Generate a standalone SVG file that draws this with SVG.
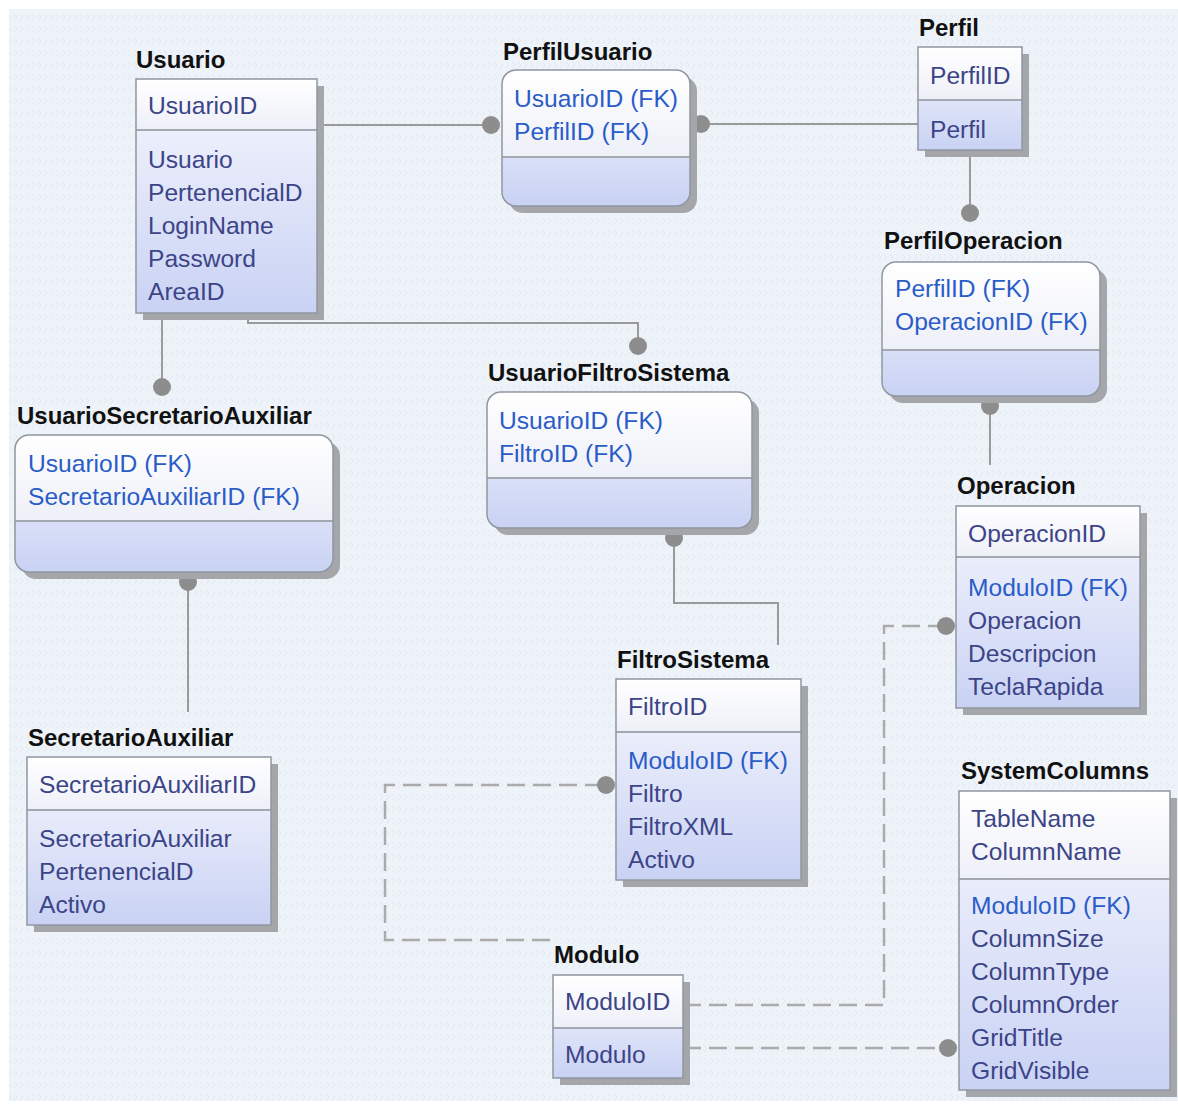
<svg xmlns="http://www.w3.org/2000/svg" width="1178" height="1107" viewBox="0 0 1178 1107">
<defs>
<linearGradient id="head" x1="0" y1="0" x2="0" y2="1"><stop offset="0" stop-color="#ffffff"/><stop offset="1" stop-color="#eef0f8"/></linearGradient>
<linearGradient id="body" x1="0" y1="0" x2="0" y2="1"><stop offset="0" stop-color="#f6f7fd"/><stop offset="1" stop-color="#c9d2f4"/></linearGradient>
<pattern id="tex" width="12" height="12" patternUnits="userSpaceOnUse"><path d="M2 2 L5 5 L2 8 M8 2 L11 5 L8 8" fill="none" stroke="#e1e8f0" stroke-width="1"/></pattern>
</defs>
<style>
.title{font-family:"Liberation Sans",Arial,sans-serif;font-weight:bold;font-size:24px;fill:#111111}
.at{font-family:"Liberation Sans",Arial,sans-serif;font-size:24.6px;fill:#3c4488}
.fk{font-family:"Liberation Sans",Arial,sans-serif;font-size:24.6px;fill:#2a5cc8}
.sh{fill:#a4a6aa}
.bd{fill:url(#body)}
.hd{fill:url(#head)}
.bx{fill:none;stroke:#9097a0;stroke-width:1.5}
.dv{stroke:#a4a8b0;stroke-width:2}
.ln{fill:none;stroke:#9a9a9a;stroke-width:2}
.ds{fill:none;stroke:#ababab;stroke-width:2.5;stroke-dasharray:18 8}
.dot{fill:#8d8d8d}
</style>
<rect width="1178" height="1107" fill="#ffffff"/>
<rect x="9" y="9" width="1169" height="1092" fill="#eef3f9"/>
<rect x="9" y="9" width="1169" height="1092" fill="url(#tex)"/>

<g id="connectors">
<path class="ln" d="M317 125 H491"/><circle class="dot" cx="491" cy="125" r="9"/>
<path class="ln" d="M701 124 H918"/><circle class="dot" cx="701" cy="124" r="9"/>
<path class="ln" d="M970 150 V213"/><circle class="dot" cx="970" cy="213" r="9"/>
<path class="ln" d="M990 406 V465"/><circle class="dot" cx="990" cy="406" r="9"/>
<path class="ln" d="M162 313 V387"/><circle class="dot" cx="162" cy="387" r="9"/>
<path class="ln" d="M188 582 V712"/><circle class="dot" cx="188" cy="582" r="9"/>
<path class="ln" d="M248 313 V323 H638 V346"/><circle class="dot" cx="638" cy="346" r="9"/>
<path class="ln" d="M674 538 V603 H778 V645"/><circle class="dot" cx="674" cy="538" r="9"/>
<path class="ds" d="M550 940 H385 V785 H606"/><circle class="dot" cx="606" cy="785" r="9"/>
<path class="ds" d="M683 1005 H884 V626 H946"/><circle class="dot" cx="946" cy="626" r="9"/>
<path class="ds" d="M683 1048 H948"/><circle class="dot" cx="948" cy="1048" r="9"/>
</g>

<g id="Usuario">
<text class="title" x="136" y="68">Usuario</text>
<rect class="sh" x="143" y="86" width="181" height="234"/>
<rect class="bd" x="136" y="79" width="181" height="234"/>
<rect class="hd" x="136" y="79" width="181" height="51"/>
<line class="dv" x1="136" y1="130" x2="317" y2="130"/>
<rect class="bx" x="136" y="79" width="181" height="234"/>
<text class="at" x="148" y="114">UsuarioID</text>
<text class="at" x="148" y="168">Usuario</text>
<text class="at" x="148" y="201">PertenencialD</text>
<text class="at" x="148" y="234">LoginName</text>
<text class="at" x="148" y="267">Password</text>
<text class="at" x="148" y="300">AreaID</text>
</g>

<g id="PerfilUsuario">
<text class="title" x="503" y="60">PerfilUsuario</text>
<rect class="sh" x="509" y="77" width="188" height="136" rx="14"/>
<rect class="bd" x="502" y="70" width="188" height="136" rx="14"/>
<path class="hd" d="M502 157 V84 A14 14 0 0 1 516 70 H676 A14 14 0 0 1 690 84 V157 Z"/>
<line class="dv" x1="502" y1="157" x2="690" y2="157"/>
<rect class="bx" x="502" y="70" width="188" height="136" rx="14"/>
<text class="fk" x="514" y="107">UsuarioID (FK)</text>
<text class="fk" x="514" y="140">PerfilID (FK)</text>
</g>

<g id="Perfil">
<text class="title" x="919" y="36">Perfil</text>
<rect class="sh" x="925" y="54" width="104" height="103"/>
<rect class="bd" x="918" y="47" width="104" height="103"/>
<rect class="hd" x="918" y="47" width="104" height="53"/>
<line class="dv" x1="918" y1="100" x2="1022" y2="100"/>
<rect class="bx" x="918" y="47" width="104" height="103"/>
<text class="at" x="930" y="84">PerfilID</text>
<text class="at" x="930" y="138">Perfil</text>
</g>

<g id="PerfilOperacion">
<text class="title" x="884" y="249">PerfilOperacion</text>
<rect class="sh" x="889" y="269" width="218" height="134" rx="14"/>
<rect class="bd" x="882" y="262" width="218" height="134" rx="14"/>
<path class="hd" d="M882 350 V276 A14 14 0 0 1 896 262 H1086 A14 14 0 0 1 1100 276 V350 Z"/>
<line class="dv" x1="882" y1="350" x2="1100" y2="350"/>
<rect class="bx" x="882" y="262" width="218" height="134" rx="14"/>
<text class="fk" x="895" y="297">PerfilID (FK)</text>
<text class="fk" x="895" y="330">OperacionID (FK)</text>
</g>

<g id="Operacion">
<text class="title" x="957" y="494">Operacion</text>
<rect class="sh" x="963" y="513" width="184" height="202"/>
<rect class="bd" x="956" y="506" width="184" height="202"/>
<rect class="hd" x="956" y="506" width="184" height="51"/>
<line class="dv" x1="956" y1="557" x2="1140" y2="557"/>
<rect class="bx" x="956" y="506" width="184" height="202"/>
<text class="at" x="968" y="542">OperacionID</text>
<text class="fk" x="968" y="596">ModuloID (FK)</text>
<text class="at" x="968" y="629">Operacion</text>
<text class="at" x="968" y="662">Descripcion</text>
<text class="at" x="968" y="695">TeclaRapida</text>
</g>

<g id="UsuarioSecretarioAuxiliar">
<text class="title" x="17" y="424">UsuarioSecretarioAuxiliar</text>
<rect class="sh" x="22" y="442" width="318" height="137" rx="14"/>
<rect class="bd" x="15" y="435" width="318" height="137" rx="14"/>
<path class="hd" d="M15 521 V449 A14 14 0 0 1 29 435 H319 A14 14 0 0 1 333 449 V521 Z"/>
<line class="dv" x1="15" y1="521" x2="333" y2="521"/>
<rect class="bx" x="15" y="435" width="318" height="137" rx="14"/>
<text class="fk" x="28" y="472">UsuarioID (FK)</text>
<text class="fk" x="28" y="505">SecretarioAuxiliarID (FK)</text>
</g>

<g id="SecretarioAuxiliar">
<text class="title" x="28" y="746">SecretarioAuxiliar</text>
<rect class="sh" x="34" y="764" width="244" height="168"/>
<rect class="bd" x="27" y="757" width="244" height="168"/>
<rect class="hd" x="27" y="757" width="244" height="53"/>
<line class="dv" x1="27" y1="810" x2="271" y2="810"/>
<rect class="bx" x="27" y="757" width="244" height="168"/>
<text class="at" x="39" y="793">SecretarioAuxiliarID</text>
<text class="at" x="39" y="847">SecretarioAuxiliar</text>
<text class="at" x="39" y="880">PertenencialD</text>
<text class="at" x="39" y="913">Activo</text>
</g>

<g id="UsuarioFiltroSistema">
<text class="title" x="488" y="381">UsuarioFiltroSistema</text>
<rect class="sh" x="494" y="399" width="265" height="136" rx="14"/>
<rect class="bd" x="487" y="392" width="265" height="136" rx="14"/>
<path class="hd" d="M487 478 V406 A14 14 0 0 1 501 392 H738 A14 14 0 0 1 752 406 V478 Z"/>
<line class="dv" x1="487" y1="478" x2="752" y2="478"/>
<rect class="bx" x="487" y="392" width="265" height="136" rx="14"/>
<text class="fk" x="499" y="429">UsuarioID (FK)</text>
<text class="fk" x="499" y="462">FiltroID (FK)</text>
</g>

<g id="FiltroSistema">
<text class="title" x="617" y="668">FiltroSistema</text>
<rect class="sh" x="623" y="686" width="185" height="201"/>
<rect class="bd" x="616" y="679" width="185" height="201"/>
<rect class="hd" x="616" y="679" width="185" height="53"/>
<line class="dv" x1="616" y1="732" x2="801" y2="732"/>
<rect class="bx" x="616" y="679" width="185" height="201"/>
<text class="at" x="628" y="715">FiltroID</text>
<text class="fk" x="628" y="769">ModuloID (FK)</text>
<text class="at" x="628" y="802">Filtro</text>
<text class="at" x="628" y="835">FiltroXML</text>
<text class="at" x="628" y="868">Activo</text>
</g>

<g id="Modulo">
<text class="title" x="554" y="963">Modulo</text>
<rect class="sh" x="560" y="982" width="130" height="103"/>
<rect class="bd" x="553" y="975" width="130" height="103"/>
<rect class="hd" x="553" y="975" width="130" height="53"/>
<line class="dv" x1="553" y1="1028" x2="683" y2="1028"/>
<rect class="bx" x="553" y="975" width="130" height="103"/>
<text class="at" x="565" y="1010">ModuloID</text>
<text class="at" x="565" y="1063">Modulo</text>
</g>

<g id="SystemColumns">
<text class="title" x="961" y="779">SystemColumns</text>
<rect class="sh" x="966" y="798" width="211" height="299"/>
<rect class="bd" x="959" y="791" width="211" height="299"/>
<rect class="hd" x="959" y="791" width="211" height="88"/>
<line class="dv" x1="959" y1="879" x2="1170" y2="879"/>
<rect class="bx" x="959" y="791" width="211" height="299"/>
<text class="at" x="971" y="827">TableName</text>
<text class="at" x="971" y="860">ColumnName</text>
<text class="fk" x="971" y="914">ModuloID (FK)</text>
<text class="at" x="971" y="947">ColumnSize</text>
<text class="at" x="971" y="980">ColumnType</text>
<text class="at" x="971" y="1013">ColumnOrder</text>
<text class="at" x="971" y="1046">GridTitle</text>
<text class="at" x="971" y="1079">GridVisible</text>
</g>
</svg>
